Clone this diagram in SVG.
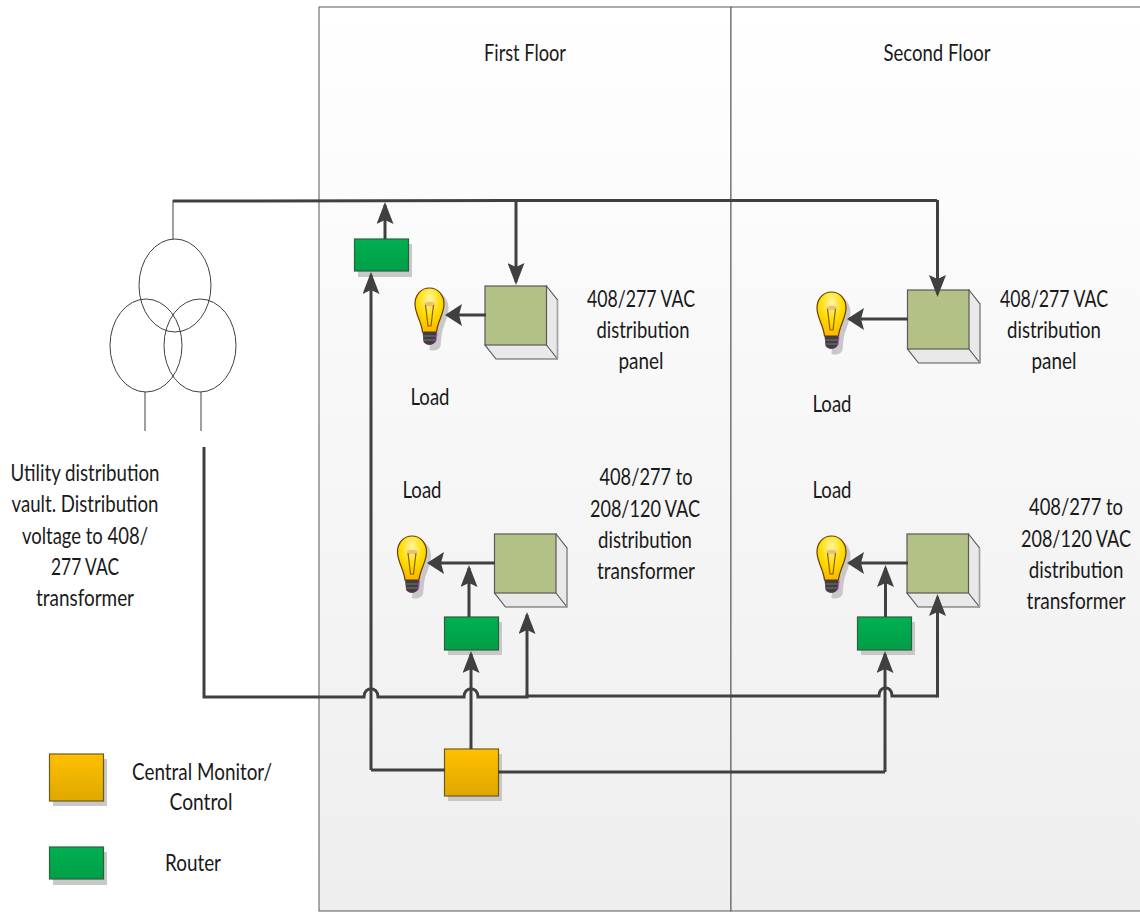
<svg xmlns="http://www.w3.org/2000/svg" width="1140" height="913" viewBox="0 0 1140 913">
<defs>
<linearGradient id="bg" x1="0" y1="0" x2="0" y2="1"><stop offset="0" stop-color="#ffffff"/><stop offset="1" stop-color="#eeeeee"/></linearGradient>
<linearGradient id="gr" x1="0" y1="0" x2="0" y2="1"><stop offset="0" stop-color="#00b050"/><stop offset="1" stop-color="#009f48"/></linearGradient>
<linearGradient id="or" x1="0" y1="0" x2="0" y2="1"><stop offset="0" stop-color="#ffc000"/><stop offset="1" stop-color="#dfa800"/></linearGradient>
<radialGradient id="bulbfill" cx="0.5" cy="0.25" r="0.8"><stop offset="0" stop-color="#fff6a0"/><stop offset="0.5" stop-color="#ffdc00"/><stop offset="1" stop-color="#f8b000"/></radialGradient>
<marker id="hv" markerUnits="userSpaceOnUse" markerWidth="22" markerHeight="17" refX="19" refY="8.5" viewBox="0 0 22 17" orient="auto"><path d="M0 0L22 8.5L0 17L4 8.5Z" fill="#404040"/></marker>
<marker id="hh" markerUnits="userSpaceOnUse" markerWidth="17" markerHeight="22" refX="14.5" refY="11" viewBox="0 0 17 22" orient="auto"><path d="M0 0L17 11L0 22L3 11Z" fill="#404040"/></marker>
<g id="bulb">
<path d="M4 4C14 4 19 12 19 20C19 30 13 38 12 48L11 58C9 63 3 63 0 62Z" fill="#c8c8c8"/>
<path d="M-6 45L-6 54C-3 58 3 58 7 53L8 45Z" fill="#d040d0"/>
<path d="M0 0C8.5 0 14.500 7 14.500 16C14.500 26 8 33 7 44L-7 44C-8 33 -14.500 26 -14.500 16C-14.500 7 -8.500 0 0 0Z" fill="url(#bulbfill)" stroke="#6a3d00" stroke-width="1.2"/>
<ellipse cx="0" cy="16" rx="5.5" ry="2.2" fill="#e8c080"/>
<path d="M-4 17L-1.500 38L1.500 38L4 17" fill="none" stroke="#8a6000" stroke-width="1.2"/>
<path d="M-7 44L7 44L6 53C4 58 -4 58 -6 53Z" fill="#3f3f3f"/>
<path d="M-6.500 48H6.500M-6 52H6" stroke="#777" stroke-width="1"/>
</g>
<g id="cube">
<path d="M61.500 0L72.500 14V73H11L0 59Z" fill="#e9e9e9" stroke="#595959" stroke-width="1.2"/>
<path d="M61.500 59L72.500 73" stroke="#595959" stroke-width="1.2"/>
<path d="M72.500 14V73" stroke="#a6a6a6" stroke-width="1.5"/>
<rect width="61.500" height="59" fill="#b3c187" stroke="#595959" stroke-width="1.2"/>
</g>
</defs>
<style>
text{font-family:Lato,"Open Sans","Liberation Sans",sans-serif;font-size:23px;fill:#1a1a1a;text-anchor:middle}
.c{fill:none;stroke:#404040;stroke-width:3}
.v{marker-end:url(#hv)}
.h{marker-end:url(#hh)}
.sh{fill:#c8c8c8}
.rt{fill:url(#gr);stroke:#2f5f3f;stroke-width:1.2}
.mo{fill:url(#or);stroke:#6b5a20;stroke-width:1.2}
.t{fill:none;stroke:#404040;stroke-width:1}
</style>
<rect width="1140" height="913" fill="#ffffff"/>
<g id="floor1"><rect x="319" y="7" width="412" height="904" fill="url(#bg)" stroke="#595959"/><text x="525" y="61" textLength="82" lengthAdjust="spacingAndGlyphs">First Floor</text></g>
<g id="floor2"><rect x="731" y="7" width="412" height="904" fill="url(#bg)" stroke="#595959"/><text x="937" y="61" textLength="107" lengthAdjust="spacingAndGlyphs">Second Floor</text></g>
<g id="vault">
<ellipse cx="175" cy="285.500" rx="36" ry="46.500" class="t"/><ellipse cx="146" cy="345.500" rx="36" ry="46.500" class="t"/><ellipse cx="200" cy="345.500" rx="36" ry="46.500" class="t"/>
<path d="M145 392V431M201 392V431M173 200V239" class="t"/>
<text x="85" y="481" textLength="149" lengthAdjust="spacingAndGlyphs">Utility distribution</text><text x="85" y="512" textLength="147" lengthAdjust="spacingAndGlyphs">vault. Distribution</text><text x="85" y="544" textLength="126" lengthAdjust="spacingAndGlyphs">voltage to 408/</text><text x="85" y="575" textLength="68" lengthAdjust="spacingAndGlyphs">277 VAC</text><text x="85" y="606" textLength="98" lengthAdjust="spacingAndGlyphs">transformer</text>
</g>
<g id="panel1"><use href="#cube" transform="translate(485 286)"/><text x="641" y="307" textLength="108" lengthAdjust="spacingAndGlyphs">408/277 VAC</text><text x="643" y="338" textLength="93" lengthAdjust="spacingAndGlyphs">distribution</text><text x="641" y="369" textLength="45" lengthAdjust="spacingAndGlyphs">panel</text></g>
<g id="panel2"><use href="#cube" transform="translate(907.500 290)"/><text x="1054" y="307" textLength="108" lengthAdjust="spacingAndGlyphs">408/277 VAC</text><text x="1054" y="338" textLength="94" lengthAdjust="spacingAndGlyphs">distribution</text><text x="1054" y="369" textLength="45" lengthAdjust="spacingAndGlyphs">panel</text></g>
<g id="xfmr1"><use href="#cube" transform="translate(494.500 534)"/><text x="646" y="485" textLength="93" lengthAdjust="spacingAndGlyphs">408/277 to</text><text x="645" y="517" textLength="110" lengthAdjust="spacingAndGlyphs">208/120 VAC</text><text x="645" y="548" textLength="94" lengthAdjust="spacingAndGlyphs">distribution</text><text x="646" y="579" textLength="98" lengthAdjust="spacingAndGlyphs">transformer</text></g>
<g id="xfmr2"><use href="#cube" transform="translate(907 534)"/><text transform="translate(1076 515) scale(.8 1)">408/277 to</text><text transform="translate(1076 547) scale(.785 1)">208/120 VAC</text><text transform="translate(1076 578) scale(.815 1)">distribution</text><text transform="translate(1076 609) scale(.83 1)">transformer</text></g>
<g id="load1"><use href="#bulb" transform="translate(429.500 288)"/><text x="430" y="405" textLength="39" lengthAdjust="spacingAndGlyphs">Load</text></g>
<g id="load2"><use href="#bulb" transform="translate(831.500 292)"/><text x="832" y="412" textLength="39" lengthAdjust="spacingAndGlyphs">Load</text></g>
<g id="load3"><use href="#bulb" transform="translate(412 536)"/><text x="422" y="498" textLength="39" lengthAdjust="spacingAndGlyphs">Load</text></g>
<g id="load4"><use href="#bulb" transform="translate(831.500 536)"/><text x="832" y="498" textLength="39" lengthAdjust="spacingAndGlyphs">Load</text></g>
<g id="router1"><rect x="358" y="244" width="54" height="33" class="sh"/><rect x="354.500" y="239" width="54" height="32" class="rt"/></g>
<g id="router2"><rect x="448" y="622" width="54" height="33" class="sh"/><rect x="444.500" y="617" width="54" height="33" class="rt"/></g>
<g id="router3"><rect x="861" y="622" width="54" height="33" class="sh"/><rect x="857.500" y="617" width="54" height="33" class="rt"/></g>
<g id="monitor"><rect x="448" y="754" width="54" height="47" class="sh"/><rect x="444.500" y="749" width="54" height="47" class="mo"/></g>
<g id="legend">
<rect x="53" y="759" width="54" height="47" class="sh"/><rect x="49.500" y="754" width="54" height="47" class="mo"/>
<text x="202" y="780" textLength="140" lengthAdjust="spacingAndGlyphs">Central Monitor/</text><text x="201" y="810" textLength="63" lengthAdjust="spacingAndGlyphs">Control</text>
<rect x="53" y="852" width="54" height="33" class="sh"/><rect x="49.500" y="847" width="54" height="32" class="rt"/>
<text x="193" y="871" textLength="56" lengthAdjust="spacingAndGlyphs">Router</text>
</g>
<g id="connectors">
<path class="c" d="M173 201L516 200.500L937 200.500"/>
<path class="c v" d="M385 239V205"/>
<path class="c v" d="M516 201V282"/>
<path class="c v" d="M937.500 200V294"/>
<path class="c v" d="M371 770V275"/>
<path class="c h" d="M486 315H447.500"/>
<path class="c h" d="M908 319H849.500"/>
<path class="c h" d="M495 563H429.500"/>
<path class="c h" d="M908 563H849.500"/>
<path class="c v" d="M469 617V568"/>
<path class="c v" d="M885.500 617V568"/>
<path class="c v" d="M471 749V654"/>
<path class="c v" d="M885 772V654"/>
<path class="c" d="M204 447V697H364C364 686 378 686 378 697H464C464 686 478 686 478 697H527V696H879C879 685 892 685 892 696H937"/>
<path class="c v" d="M527 696V615"/>
<path class="c v" d="M937.500 697.500V597"/>
<path class="c" d="M371 770H445M498 772H885"/>
</g>
</svg>
